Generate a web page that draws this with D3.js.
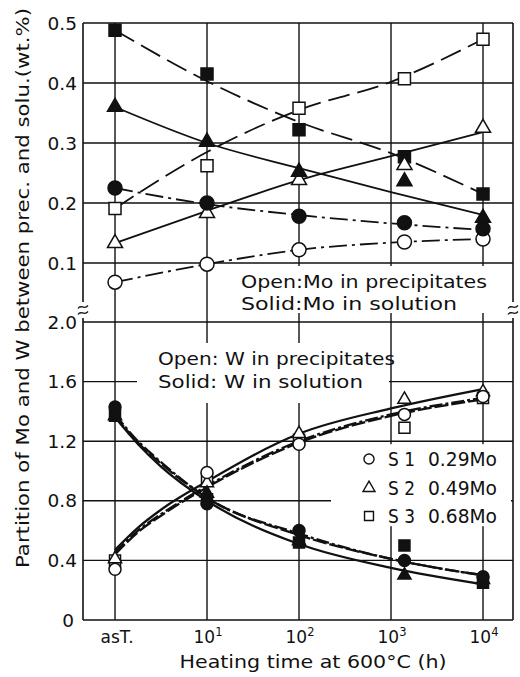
<!DOCTYPE html>
<html>
<head>
<meta charset="utf-8">
<script src="https://cdn.jsdelivr.net/npm/d3@7"></script>
<style>
  body { margin: 0; background: #fff; }
  svg { display: block; }
  text { font-family: "DejaVu Sans", sans-serif; fill: #111; }
</style>
</head>
<body>
<svg id="chart" width="520" height="677"></svg>
<script>
// Heating times (h); the as-tempered state is placed at the 10^0 position
const times = [1, 10, 100, 1400, 10000];
const decades = [1, 10, 100, 1000, 10000];
const tickBase = ["asT.", "10", "10", "10", "10"];
const tickExp = ["", "1", "2", "3", "4"];

// Upper panel: Mo partition (wt.%) — open = in precipitates, solid = in solution
const moTicks = [0.1, 0.2, 0.3, 0.4, 0.5];
const moS1Prec = [0.068, 0.098, 0.122, 0.135, 0.140];
const moS1Sol  = [0.225, 0.200, 0.178, 0.167, 0.157];
const moS2Prec = [0.133, 0.183, 0.238, 0.263, 0.325];
const moS2Sol  = [0.360, 0.302, 0.252, 0.236, 0.175];
const moS3Prec = [0.191, 0.262, 0.358, 0.407, 0.473];
const moS3Sol  = [0.488, 0.415, 0.322, 0.277, 0.215];

// Trend curves of the upper panel, evaluated at each decade
const moS1PrecFit = [0.068, 0.098, 0.122, 0.134, 0.140];
const moS1SolFit  = [0.225, 0.198, 0.180, 0.166, 0.155];
const moS2PrecFit = [0.133, 0.187, 0.238, 0.278, 0.318];
const moS2SolFit  = [0.360, 0.300, 0.258, 0.218, 0.180];
const moS3PrecFit = [0.191, 0.285, 0.355, 0.402, 0.473];
const moS3SolFit  = [0.488, 0.403, 0.335, 0.283, 0.215];

// Lower panel: W partition (wt.%)
const wTicks = [0, 0.4, 0.8, 1.2, 1.6, 2.0];
const wS1Prec = [0.34, 0.99, 1.18, 1.38, 1.50];
const wS1Sol  = [1.43, 0.78, 0.60, 0.40, 0.29];
const wS2Prec = [0.41, 0.92, 1.25, 1.48, 1.53];
const wS2Sol  = [1.37, 0.85, 0.53, 0.30, 0.27];
const wS3Prec = [0.40, 0.95, 1.21, 1.29, 1.49];
const wS3Sol  = [1.37, 0.81, 0.52, 0.50, 0.25];

// Trend curves of the lower panel
const wFitTimes = [1, 1.78, 3.16, 10, 100, 1000, 10000];
const wS1PrecFit = [0.45, 0.60, 0.71, 0.90, 1.20, 1.38, 1.49];
const wS2PrecFit = [0.47, 0.62, 0.74, 0.93, 1.25, 1.42, 1.55];
const wS3PrecFit = [0.44, 0.59, 0.70, 0.89, 1.19, 1.37, 1.48];
const wS1SolFit  = [1.38, 1.20, 1.06, 0.82, 0.58, 0.41, 0.30];
const wS2SolFit  = [1.36, 1.18, 1.03, 0.80, 0.51, 0.35, 0.24];
const wS3SolFit  = [1.37, 1.19, 1.05, 0.82, 0.57, 0.41, 0.30];

// Legend
const legendNames = ["S 1", "S 2", "S 3"];
const legendMo = ["0.29Mo", "0.49Mo", "0.68Mo"];

// ---------------------------------------------------------------
const svg = d3.select("#chart");
const L = 83, R = 513, T = 23, B = 620, BREAK = 310;

const x = d3.scaleLog()
  .domain([Math.pow(10, -0.348), Math.pow(10, 4.326)])
  .range([L, R]);
const yMo = d3.scaleLinear().domain([0.1, 0.5]).range([263, 23]);
const yW = d3.scaleLinear().domain([0, 2.0]).range([620, 322]);

const ink = "#111";

// Sample styles: S1 dash-dot, S2 solid, S3 dashed
const styles = [
  { sym: d3.symbolCircle,   dashTop: "18,5,3,5", dashBot: "13,3,3,3" },
  { sym: d3.symbolTriangle, dashTop: null,       dashBot: null },
  { sym: d3.symbolSquare,   dashTop: "22,8",     dashBot: "14,3" }
];
const symSizeTop = [154, 98, 144];
const symSizeBot = [113, 75, 121];

// ---- grid
const grid = svg.append("g").attr("stroke", ink).attr("stroke-width", 1.4);
grid.selectAll(".v").data(decades).join("line")
  .attr("x1", d => x(d)).attr("x2", d => x(d))
  .attr("y1", T).attr("y2", B);
grid.selectAll(".hm").data(moTicks.filter(d => d < 0.5)).join("line")
  .attr("x1", L).attr("x2", R)
  .attr("y1", d => yMo(d)).attr("y2", d => yMo(d));
grid.selectAll(".hw").data(wTicks.filter(d => d > 0)).join("line")
  .attr("x1", L).attr("x2", R)
  .attr("y1", d => yW(d)).attr("y2", d => yW(d));

// white panels behind the notes and the legend
const blank = svg.append("g").attr("fill", "#fff");
blank.append("rect").attr("x", 235).attr("y", yMo(0.1) + 3).attr("width", R - 2 - 235).attr("height", 47);
blank.append("rect").attr("x", 137).attr("y", 343).attr("width", x(1000) - 2 - 137).attr("height", 60);
blank.append("rect").attr("x", 331).attr("y", yW(1.2) + 3).attr("width", R - 2 - 331).attr("height", 82);

// ---- frame
const frame = svg.append("g").attr("stroke", ink).attr("stroke-width", 1.6).attr("fill", "none");
frame.append("line").attr("x1", L).attr("x2", R).attr("y1", T).attr("y2", T);
frame.append("line").attr("x1", L).attr("x2", R).attr("y1", B).attr("y2", B);
[L, R].forEach(xx => {
  frame.append("line").attr("x1", xx).attr("x2", xx).attr("y1", T).attr("y2", BREAK - 8);
  frame.append("line").attr("x1", xx).attr("x2", xx).attr("y1", BREAK + 8).attr("y2", B);
  // axis break marks
  [-3, 3].forEach(o => {
    const p = d3.path();
    const yy = BREAK + o;
    p.moveTo(xx - 5, yy + 1.5);
    p.bezierCurveTo(xx - 2, yy - 3.5, xx + 1, yy + 3.5, xx + 5, yy - 1.5);
    frame.append("path").attr("d", p.toString()).attr("stroke-width", 1.3);
  });
});

// ---- tick labels
svg.append("g").selectAll("text").data(moTicks).join("text")
  .attr("x", 77).attr("y", d => yMo(d)).attr("dy", "0.36em")
  .attr("text-anchor", "end").attr("font-size", 18.5)
  .text(d => d.toFixed(1));
svg.append("g").selectAll("text").data(wTicks).join("text")
  .attr("x", d => d === 0 ? 74 : 77).attr("y", d => yW(d)).attr("dy", "0.36em")
  .attr("text-anchor", "end").attr("font-size", 18.5)
  .text(d => d === 0 ? "0" : d.toFixed(1));

const xt = svg.append("g").selectAll("text").data(decades).join("text")
  .attr("x", (d, i) => x(d) + (i === 0 ? 2 : 1)).attr("y", 643)
  .attr("text-anchor", "middle").attr("font-size", 17);
xt.append("tspan").text((d, i) => tickBase[i]);
xt.append("tspan").attr("font-size", 11.5).attr("dy", -7).text((d, i) => tickExp[i]);

// ---- axis titles
svg.append("text")
  .attr("transform", "translate(29,288) rotate(-90)")
  .attr("text-anchor", "middle").attr("font-size", 18)
  .attr("textLength", 560).attr("lengthAdjust", "spacingAndGlyphs")
  .text("Partition of Mo and W between prec. and solu.(wt.%)");
svg.append("text")
  .attr("x", 313).attr("y", 668).attr("text-anchor", "middle").attr("font-size", 18)
  .attr("textLength", 267).attr("lengthAdjust", "spacingAndGlyphs")
  .text("Heating time at 600°C (h)");

// ---- notes
function note(txt, xx, yy, len) {
  svg.append("text").attr("x", xx).attr("y", yy).attr("font-size", 17)
    .attr("textLength", len).attr("lengthAdjust", "spacingAndGlyphs").text(txt);
}
note("Open:Mo in precipitates", 241, 288, 246);
note("Solid:Mo in solution", 241, 310, 216);
note("Open: W in precipitates", 158, 365, 237);
note("Solid: W in solution", 158, 388, 205);

// ---- legend
const legY = [459, 488, 516];
const leg = svg.append("g");
legendNames.forEach((n, i) => {
  leg.append("path")
    .attr("transform", `translate(369,${legY[i]})`)
    .attr("d", d3.symbol(styles[i].sym, [80, 62, 80][i])())
    .attr("fill", "#fff").attr("stroke", ink).attr("stroke-width", 1.4);
  leg.append("text").attr("x", 388).attr("y", legY[i]).attr("dy", "0.36em")
    .attr("font-size", 19).attr("textLength", 27).attr("lengthAdjust", "spacingAndGlyphs").text(n);
  leg.append("text").attr("x", 428).attr("y", legY[i]).attr("dy", "0.36em")
    .attr("font-size", 19).attr("textLength", 69).attr("lengthAdjust", "spacingAndGlyphs").text(legendMo[i]);
});

// ---- curves
function curve(xs, ys, yScale, dash, width) {
  const pts = xs.map((t, i) => [x(t), yScale(ys[i])]);
  svg.append("path")
    .attr("d", d3.line().curve(d3.curveMonotoneX)(pts))
    .attr("fill", "none").attr("stroke", ink).attr("stroke-width", width)
    .attr("stroke-dasharray", dash);
}
const moFits = [[moS1PrecFit, moS1SolFit], [moS2PrecFit, moS2SolFit], [moS3PrecFit, moS3SolFit]];
moFits.forEach((pair, i) => pair.forEach(f => curve(decades, f, yMo, styles[i].dashTop, 1.8)));
const wFits = [[wS1PrecFit, wS1SolFit], [wS2PrecFit, wS2SolFit], [wS3PrecFit, wS3SolFit]];
wFits.forEach((pair, i) => pair.forEach(f => curve(wFitTimes, f, yW, styles[i].dashBot, 2.3)));

// ---- markers
function markers(vals, yScale, i, filled, size) {
  svg.append("g").selectAll("path").data(vals).join("path")
    .attr("transform", (v, k) => `translate(${x(times[k])},${yScale(v)})`)
    .attr("d", d3.symbol(styles[i].sym, size)())
    .attr("fill", filled ? ink : "#fff")
    .attr("stroke", ink).attr("stroke-width", 1.5);
}
const moOpen = [moS1Prec, moS2Prec, moS3Prec], moSolid = [moS1Sol, moS2Sol, moS3Sol];
const wOpen = [wS1Prec, wS2Prec, wS3Prec], wSolid = [wS1Sol, wS2Sol, wS3Sol];
[2, 1, 0].forEach(i => {
  markers(moOpen[i], yMo, i, false, symSizeTop[i]);
  markers(moSolid[i], yMo, i, true, symSizeTop[i]);
  markers(wOpen[i], yW, i, false, symSizeBot[i]);
  markers(wSolid[i], yW, i, true, symSizeBot[i]);
});
</script>
</body>
</html>
